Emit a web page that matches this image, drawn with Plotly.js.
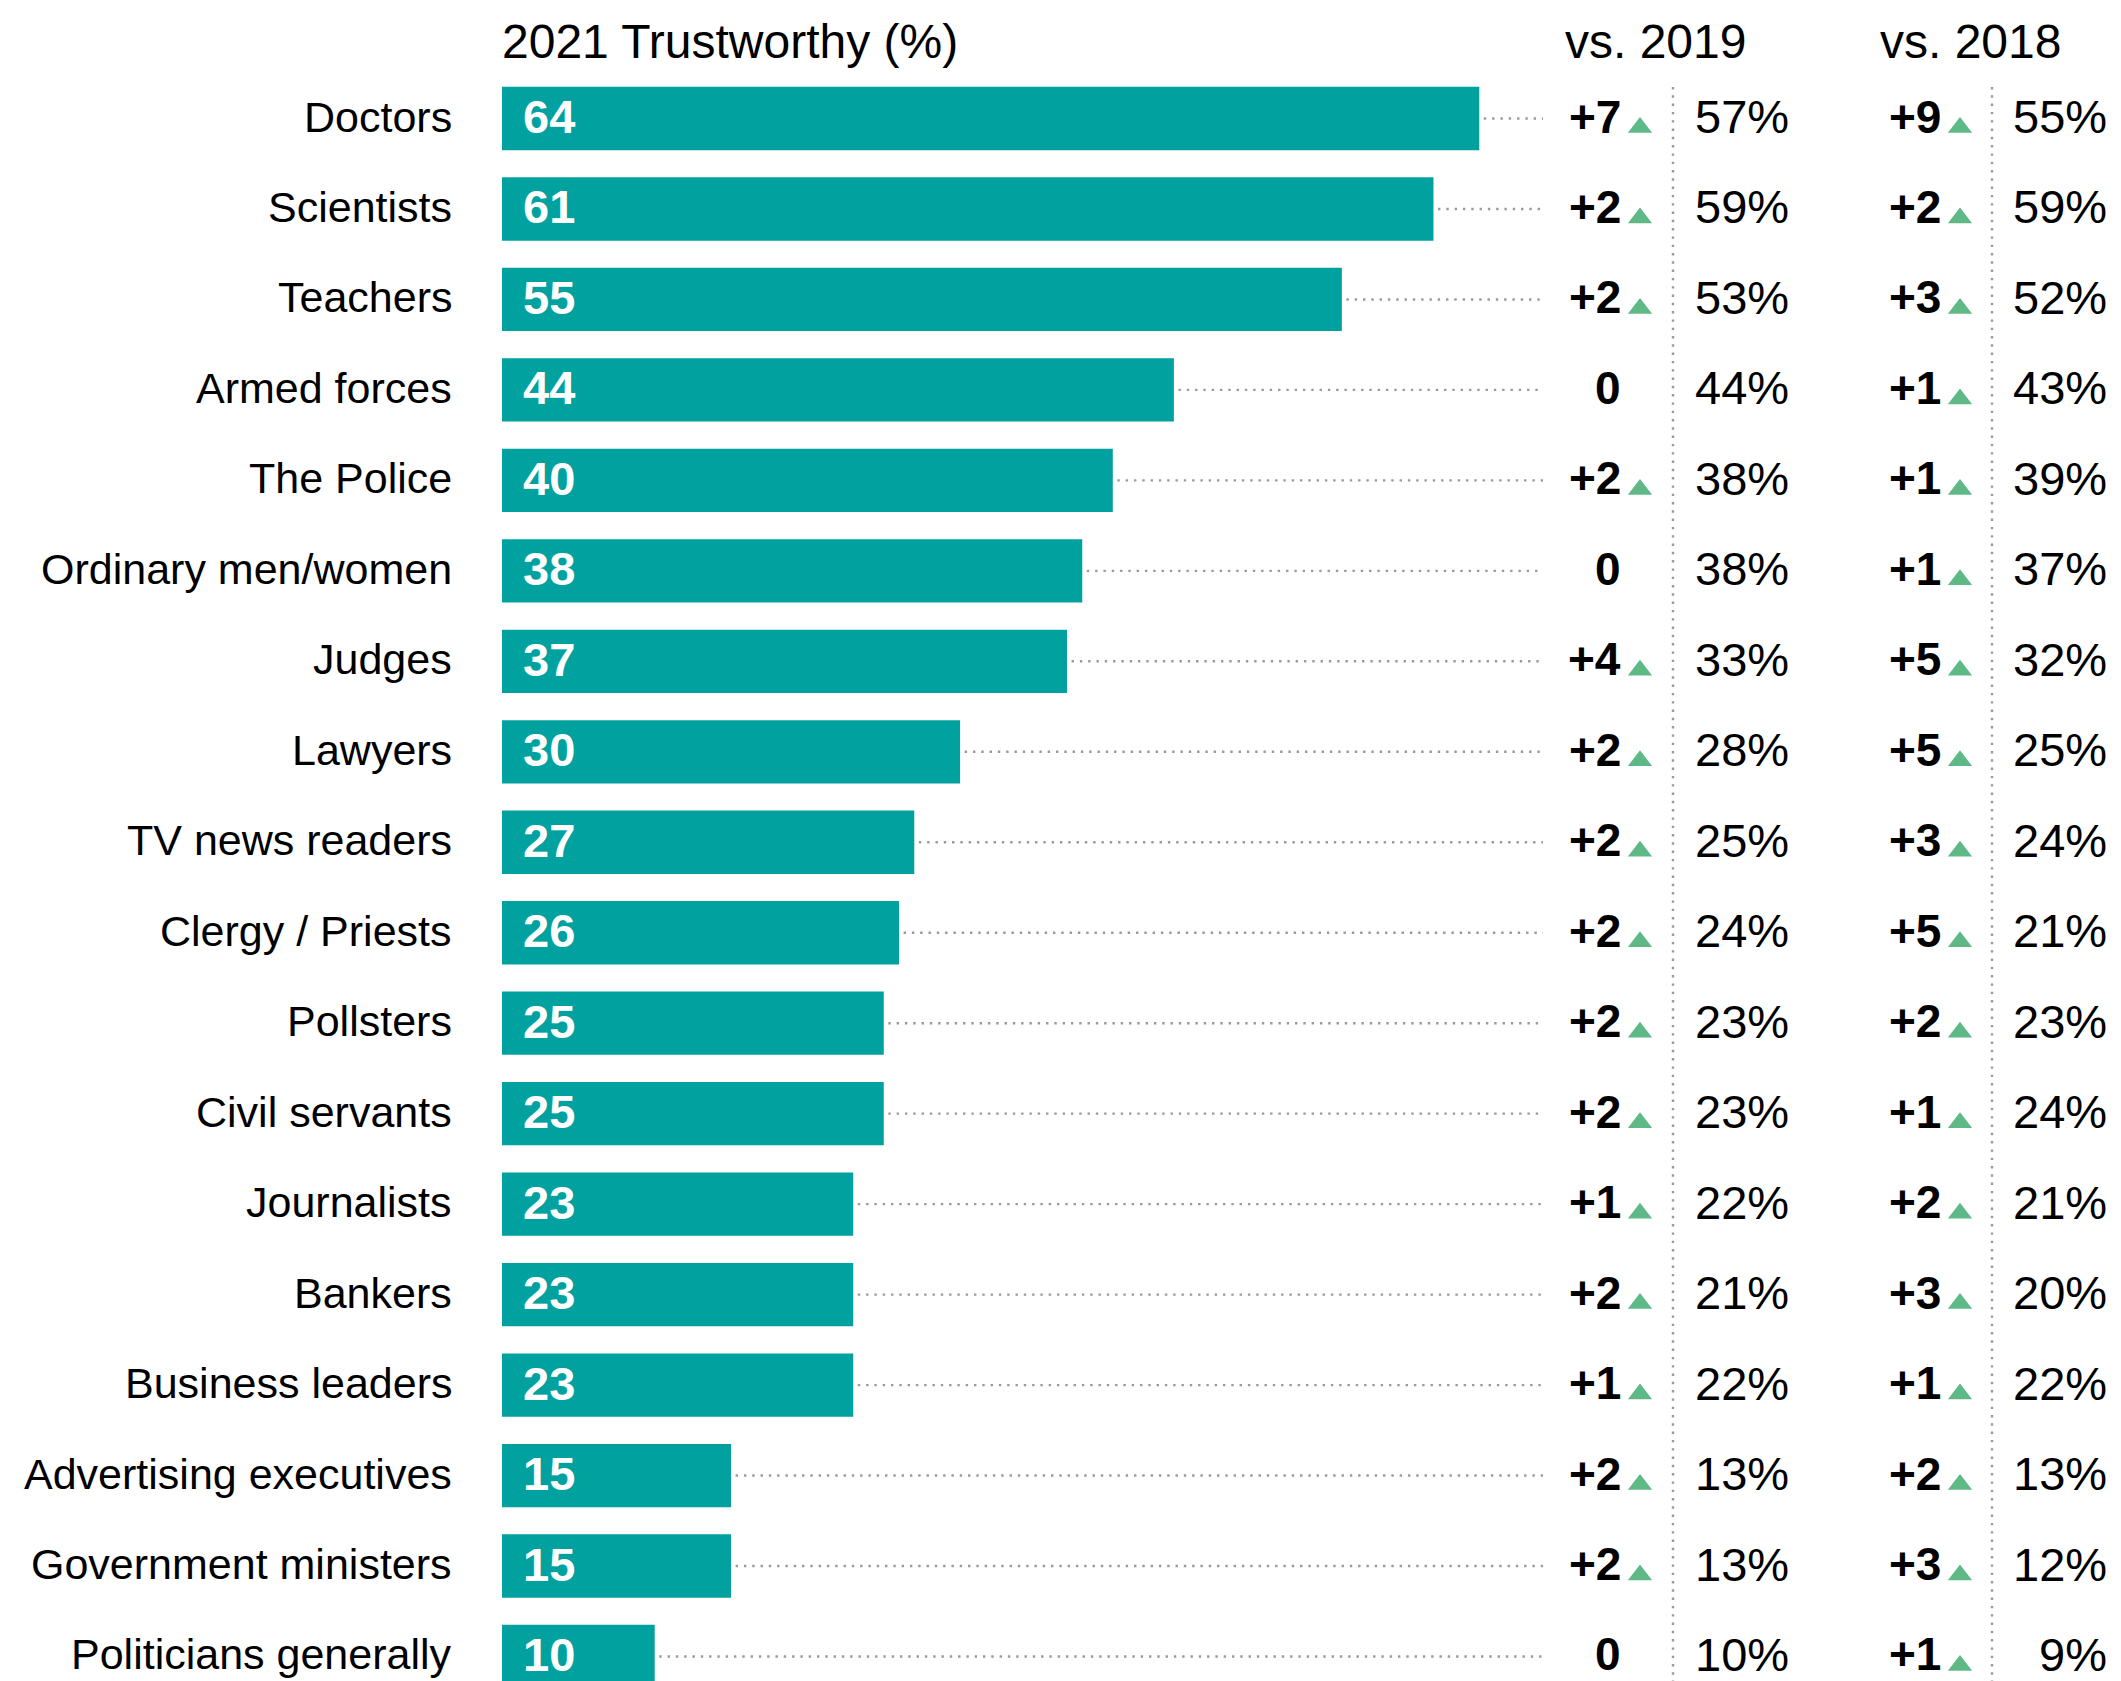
<!DOCTYPE html>
<html><head><meta charset="utf-8">
<script src="https://cdn.plot.ly/plotly-3.0.1.min.js"></script>
<style>html,body{margin:0;padding:0;background:#fff;} #chart{width:2121px;height:1681px;}</style>
</head><body><div id="chart"></div>
<script>
const categories = ["Doctors","Scientists","Teachers","Armed forces","The Police","Ordinary men/women","Judges","Lawyers","TV news readers","Clergy / Priests","Pollsters","Civil servants","Journalists","Bankers","Business leaders","Advertising executives","Government ministers","Politicians generally"];
const trust2021 = [64,61,55,44,40,38,37,30,27,26,25,25,23,23,23,15,15,10];
const change2019 = [7,2,2,0,2,0,4,2,2,2,2,2,1,2,1,2,2,0];
const pct2019 = [57,59,53,44,38,38,33,28,25,24,23,23,22,21,22,13,13,10];
const change2018 = [9,2,3,1,1,1,5,5,3,5,2,1,2,3,1,2,3,1];
const pct2018 = [55,59,52,43,39,37,32,25,24,21,23,24,21,20,22,13,12,9];
const headers = ["2021 Trustworthy (%)", "vs. 2019", "vs. 2018"];

const W = 2121, H = 1681;
const FONT = '"Liberation Sans", Arial, Helvetica, sans-serif';
const TEAL = '#00A19F', GREEN = '#5FB986', DOT = '#9A9A9A', INK = '#000000';
const X0PX = 502, PXPERUNIT = 15.27;
const XMAX = (W - X0PX) / PXPERUNIT;
const ROW0 = 118.5, PITCH = 90.47;
const yTop = -ROW0 / PITCH, yBot = yTop + H / PITCH;
const LEADER_END = (1543 - X0PX) / PXPERUNIT;
const rows = categories.map((c, i) => i);
const px = v => v / W;
const py = v => 1 - v / H;

// leader lines
const lx = [], ly = [];
trust2021.forEach((v, i) => { lx.push(v + 0.3, LEADER_END, null); ly.push(i, i, null); });

const triX = [], triY = [];
const TRI_OFF = 9 / PITCH;
change2019.forEach((c, i) => { if (c > 0) { triX.push(1640); triY.push(i + TRI_OFF); } });
change2018.forEach((c, i) => { if (c > 0) { triX.push(1960); triY.push(i + TRI_OFF); } });

const traces = [
  { type: 'bar', orientation: 'h', x: trust2021, y: rows, width: 0.7,
    marker: { color: TEAL }, hoverinfo: 'skip', showlegend: false },
  { type: 'scatter', mode: 'lines', x: lx, y: ly,
    line: { color: DOT, width: 2.4, dash: '2.4px,5.9px' }, hoverinfo: 'skip', showlegend: false },
  { type: 'scatter', mode: 'markers', x: triX, y: triY, xaxis: 'x2',
    marker: { symbol: 'triangle-up', size: 21, color: GREEN }, hoverinfo: 'skip', showlegend: false }
];

const ann = [];
const shift = 2;
categories.forEach((c, i) => ann.push({ xref: 'paper', x: px(454), xanchor: 'right', yref: 'y', y: i, yanchor: 'middle', yshift: shift,
  text: c, showarrow: false, font: { family: FONT, size: 43, color: INK } }));
trust2021.forEach((v, i) => ann.push({ xref: 'x', x: 0, xshift: 19, xanchor: 'left', yref: 'y', y: i, yanchor: 'middle', yshift: shift,
  text: '<b>' + v + '</b>', showarrow: false, font: { family: FONT, size: 47, color: '#ffffff' } }));
const fmtChange = c => c > 0 ? '+' + c : String(c);
change2019.forEach((c, i) => ann.push({ xref: 'paper', x: px(1623), xanchor: 'right', yref: 'y', y: i, yanchor: 'middle', yshift: shift,
  text: '<b>' + fmtChange(c) + '</b>', showarrow: false, font: { family: FONT, size: 46, color: INK } }));
pct2019.forEach((p, i) => ann.push({ xref: 'paper', x: px(1791), xanchor: 'right', yref: 'y', y: i, yanchor: 'middle', yshift: shift,
  text: p + '%', showarrow: false, font: { family: FONT, size: 47, color: INK } }));
change2018.forEach((c, i) => ann.push({ xref: 'paper', x: px(1943), xanchor: 'right', yref: 'y', y: i, yanchor: 'middle', yshift: shift,
  text: '<b>' + fmtChange(c) + '</b>', showarrow: false, font: { family: FONT, size: 46, color: INK } }));
pct2018.forEach((p, i) => ann.push({ xref: 'paper', x: px(2109), xanchor: 'right', yref: 'y', y: i, yanchor: 'middle', yshift: shift,
  text: p + '%', showarrow: false, font: { family: FONT, size: 47, color: INK } }));
const headerX = [500, 1563, 1878];
headers.forEach((h, k) => ann.push({ xref: 'paper', x: px(headerX[k]), xanchor: 'left', yref: 'paper', y: py(41), yanchor: 'middle',
  text: h, showarrow: false, font: { family: FONT, size: 48, color: INK } }));

const shapes = [1673, 1992].map(xp => ({ type: 'line', xref: 'paper', yref: 'paper', x0: px(xp), x1: px(xp), y0: py(87), y1: 0,
  line: { color: DOT, width: 2.4, dash: '2.4px,5.9px' } }));

const layout = {
  width: W, height: H, margin: { l: 0, r: 0, t: 0, b: 0, pad: 0 },
  paper_bgcolor: '#ffffff', plot_bgcolor: '#ffffff', showlegend: false,
  font: { family: FONT, color: INK },
  xaxis: { domain: [X0PX / W, 1], range: [0, XMAX], visible: false, fixedrange: true },
  xaxis2: { overlaying: 'x', range: [X0PX, W], visible: false, fixedrange: true },
  yaxis: { range: [yBot, yTop], visible: false, fixedrange: true },
  annotations: ann, shapes: shapes
};

Plotly.newPlot('chart', traces, layout, { staticPlot: true, displayModeBar: false });
</script>
</body></html>
